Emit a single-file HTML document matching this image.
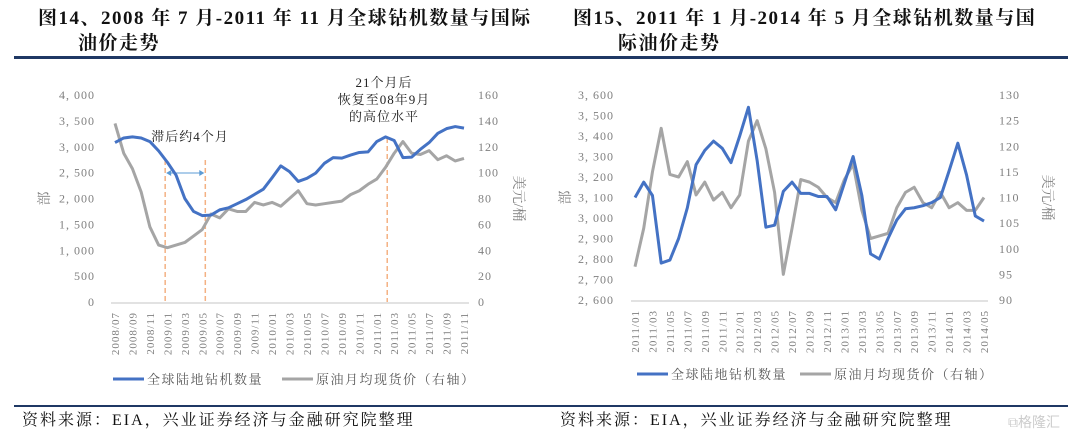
<!DOCTYPE html>
<html><head><meta charset="utf-8">
<style>
html,body{margin:0;padding:0;background:#fff;}
body{width:1080px;height:434px;overflow:hidden;position:relative;font-family:"Liberation Serif","Noto Serif CJK SC",serif;}
.t{position:absolute;font-weight:bold;font-size:19px;letter-spacing:1.5px;color:#111;white-space:nowrap;font-family:"Liberation Serif","Noto Serif CJK SC",serif;}
.rule{position:absolute;left:14px;width:1054px;background:#1f3864;}
.foot{position:absolute;top:407px;font-size:16px;letter-spacing:2px;color:#111;white-space:nowrap;}
svg{position:absolute;left:0;top:0;}
svg text{font-family:"Liberation Serif","Noto Serif CJK SC",serif;}
</style></head><body>
<div class="t" style="left:38px;top:3px;">图14、2008 年 7 月-2011 年 11 月全球钻机数量与国际</div>
<div class="t" style="left:78px;top:28px;">油价走势</div>
<div class="t" style="left:573px;top:3px;">图15、2011 年 1 月-2014 年 5 月全球钻机数量与国</div>
<div class="t" style="left:618px;top:28px;">际油价走势</div>
<div class="rule" style="top:56px;height:3px;"></div>
<div class="rule" style="top:405px;height:2px;"></div>
<div class="foot" style="left:22px;">资料来源：EIA，兴业证券经济与金融研究院整理</div>
<div class="foot" style="left:560px;">资料来源：EIA，兴业证券经济与金融研究院整理</div>
<div style="position:absolute;left:1008px;top:412px;font-size:14px;color:#ccc;font-family:'Noto Sans CJK SC',sans-serif;">⧉格隆汇</div>
<svg id="chart" width="1080" height="434"></svg>
<script>
// Left chart data (2008/07 - 2011/11)
const leftRigs = [3080,3170,3190,3170,3100,2920,2700,2450,2000,1750,1670,1680,1780,1820,1900,1980,2080,2180,2400,2630,2520,2330,2390,2490,2680,2790,2780,2840,2890,2900,3100,3190,3120,2790,2800,2950,3080,3260,3350,3390,3360];
const leftOil = [138,115,103,85,58,44,42,44,46,51,56,68,65,72,70,70,77,75,77,74,80,86,76,75,76,77,78,83,86,91,95,104,115,124,115,114,117,110,113,109,111];
const leftYTicks = ["0","500","1,000","1,500","2,000","2,500","3,000","3,500","4,000"];
const leftY2Ticks = ["0","20","40","60","80","100","120","140","160"];
const leftXLabels = ["2008/07","2008/09","2008/11","2009/01","2009/03","2009/05","2009/07","2009/09","2009/11","2010/01","2010/03","2010/05","2010/07","2010/09","2010/11","2011/01","2011/03","2011/05","2011/07","2011/09","2011/11"];
const leftMarkers = [5.75,10.35,31.2];
// Right chart data (2011/01 - 2014/05)
const rightRigs = [3100,3175,3110,2780,2795,2900,3050,3260,3330,3375,3340,3270,3400,3540,3280,2955,2965,3130,3175,3120,3120,3105,3105,3040,3170,3300,3110,2825,2800,2900,2990,3045,3050,3060,3075,3100,3230,3365,3210,3010,2985];
const rightOil = [96.5,104,115,123.5,114.5,114,117,110.5,113,109.5,111,108,110.5,121,125,119.5,111,95,104,113.5,113,112,110,109,113.5,116.5,107.5,102,102.5,103,108,111,112,109,108,111,108,109,107.5,107.5,110];
const rightYTicks = ["2,600","2,700","2,800","2,900","3,000","3,100","3,200","3,300","3,400","3,500","3,600"];
const rightY2Ticks = ["90","95","100","105","110","115","120","125","130"];
const rightXLabels = ["2011/01","2011/03","2011/05","2011/07","2011/09","2011/11","2012/01","2012/03","2012/05","2012/07","2012/09","2012/11","2013/01","2013/03","2013/05","2013/07","2013/09","2013/11","2014/01","2014/03","2014/05"];

const NS="http://www.w3.org/2000/svg";
const svg=document.getElementById('chart');
function mk(tag,attrs,parent){const e=document.createElementNS(NS,tag);for(const k in attrs)e.setAttribute(k,attrs[k]);(parent||svg).appendChild(e);return e;}

function drawChart(cfg){
  const g=mk('g',{});
  
  
  const n=cfg.rigs.length;
  const x=i=>cfg.x0+(cfg.x1-cfg.x0)*i/(n-1);
  const y=v=>cfg.yB-(v-cfg.yMin)/(cfg.yMax-cfg.yMin)*(cfg.yB-cfg.yT);
  const y2=v=>cfg.yB-(v-cfg.y2Min)/(cfg.y2Max-cfg.y2Min)*(cfg.yB-cfg.yT);
  const tc='#7f7f7f';
  cfg.yTicks.forEach((t,i)=>{const v=cfg.yMin+(cfg.yMax-cfg.yMin)*i/(cfg.yTicks.length-1);
    const e=mk('text',{x:cfg.lx,y:y(v)+4,'text-anchor':'end','font-size':12,fill:tc,'letter-spacing':'1'},g);e.textContent=t.replace(',',', ');
    });
  cfg.y2Ticks.forEach((t,i)=>{const v=cfg.y2Min+(cfg.y2Max-cfg.y2Min)*i/(cfg.y2Ticks.length-1);
    const e=mk('text',{x:cfg.rx,y:y2(v)+4,'text-anchor':'start','font-size':12,fill:tc,'letter-spacing':'1'},g);e.textContent=t;
    });
  const ax=mk('line',{x1:cfg.ax0,x2:cfg.ax1,y1:cfg.yB+1,y2:cfg.yB+1,stroke:'#d9d9d9','stroke-width':1.5},g);
  
  cfg.xLabels.forEach((t,i)=>{const xx=x(i*2)+4;
    const e=mk('text',{x:0,y:0,transform:`translate(${xx},${cfg.yB+10}) rotate(-90)`,'text-anchor':'end','font-size':11,fill:tc,'letter-spacing':'1'},g);e.textContent=t;
    });
  const yt=mk('text',{x:0,y:0,transform:`translate(${cfg.ytx},${(cfg.yT+cfg.yB)/2}) rotate(-90)`,'text-anchor':'middle','font-size':14,fill:tc},g);yt.textContent='部';
  
  const y2t=mk('text',{x:0,y:0,transform:`translate(${cfg.y2tx},${(cfg.yT+cfg.yB)/2}) rotate(90)`,'text-anchor':'middle','font-size':14,fill:tc},g);y2t.textContent='美元/桶';
  
  if(cfg.markers){cfg.markers.forEach((m,k)=>{const l=mk('line',{x1:x(m),x2:x(m),y1:k==2?138:160,y2:cfg.yB,stroke:'#f4b183','stroke-width':1.5,'stroke-dasharray':'5,3'},g);
    });
    const a=mk('line',{x1:x(cfg.markers[0])+3,x2:x(cfg.markers[1])-3,y1:173,y2:173,stroke:'#5b9bd5','stroke-width':1},g);
    
    const ah1=mk('path',{d:`M${x(cfg.markers[0])+1},173 l5,-3 v6 z`,fill:'#5b9bd5'},g);
    const ah2=mk('path',{d:`M${x(cfg.markers[1])-1},173 l-5,-3 v6 z`,fill:'#5b9bd5'},g);
  }
  const gp=mk('polyline',{points:cfg.oil.map((v,i)=>x(i)+','+y2(v)).join(' '),fill:'none',stroke:'#a5a5a5','stroke-width':3,'stroke-linejoin':'round'},g);
  
  const bp=mk('polyline',{points:cfg.rigs.map((v,i)=>x(i)+','+y(v)).join(' '),fill:'none',stroke:'#4472c4','stroke-width':3,'stroke-linejoin':'round'},g);
  
  const L=cfg.leg;
  const l1=mk('line',{x1:L.x,x2:L.x+31,y1:L.y,y2:L.y,stroke:'#4472c4','stroke-width':3},g);
  const t1=mk('text',{x:L.x+34,y:L.y+5,'font-size':13,fill:'#595959','letter-spacing':'1.5'},g);t1.textContent='全球陆地钻机数量';
  const l2=mk('line',{x1:L.x2,x2:L.x2+31,y1:L.y,y2:L.y,stroke:'#a5a5a5','stroke-width':3},g);
  const t2=mk('text',{x:L.x2+34,y:L.y+5,'font-size':13,fill:'#595959','letter-spacing':'1.5'},g);t2.textContent='原油月均现货价（右轴）';
}
drawChart({name:'left-chart',rigs:leftRigs,oil:leftOil,x0:115,x1:464,ax0:111,ax1:469,yT:95,yB:302,yMin:0,yMax:4000,y2Min:0,y2Max:160,
  yTicks:leftYTicks,y2Ticks:leftY2Ticks,xLabels:leftXLabels,lx:95,rx:478,ytx:49,y2tx:514,markers:leftMarkers,leg:{x:113,x2:282,y:379}});
drawChart({name:'right-chart',rigs:rightRigs,oil:rightOil,x0:635,x1:984,ax0:631,ax1:988,yT:95,yB:300,yMin:2600,yMax:3600,y2Min:90,y2Max:130,
  yTicks:rightYTicks,y2Ticks:rightY2Ticks,xLabels:rightXLabels,lx:614,rx:999,ytx:570,y2tx:1043,leg:{x:637,x2:800,y:374}});
const ann=[["滞后约4个月",190,141],["21个月后",384,87],["恢复至08年9月",384,104],["的高位水平",384,121]];
ann.forEach(a=>{const e=mk('text',{x:a[1],y:a[2],'text-anchor':'middle','font-size':13,fill:'#222','letter-spacing':'1'});e.textContent=a[0];
  
  });
</script>
</body></html>
